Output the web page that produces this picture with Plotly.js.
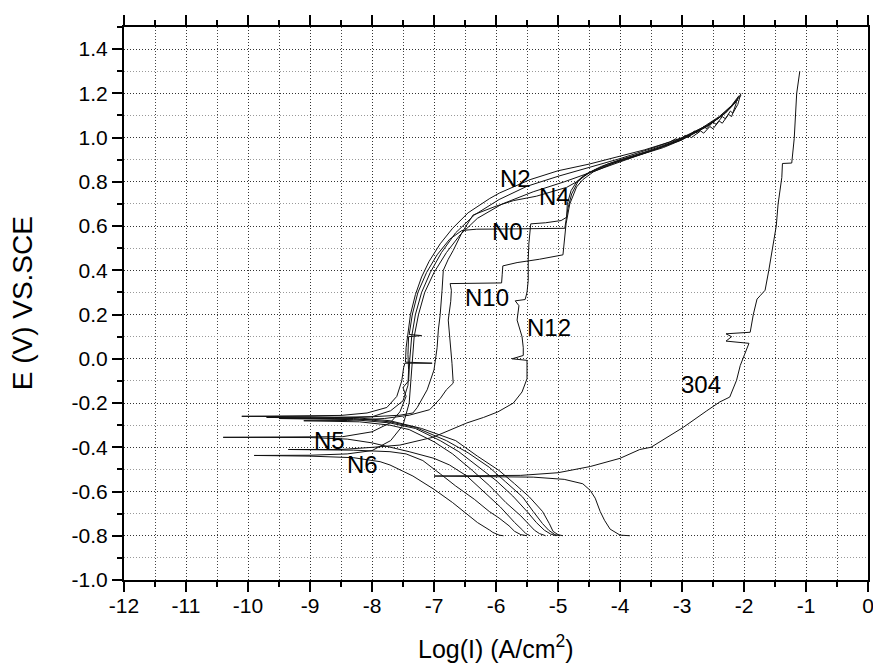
<!DOCTYPE html>
<html>
<head>
<meta charset="utf-8">
<script src="https://cdn.plot.ly/plotly-3.0.1.min.js"></script>
<style>
  html, body { margin: 0; padding: 0; background: #fff; }
  #plot { width: 873px; height: 666px; }
</style>
</head>
<body>
<div id="plot"></div>
<script>
// Potentiodynamic polarization curves: potential E (V vs SCE) against log current density.
// Each scan runs from the cathodic end (-0.8 V) up through Ecorr and on into the anodic region.

const xTickVals = [-12, -11, -10, -9, -8, -7, -6, -5, -4, -3, -2, -1, 0];
const xTickText = ['-12', '-11', '-10', '-9', '-8', '-7', '-6', '-5', '-4', '-3', '-2', '-1', '0'];
const yTickVals = [-1.0, -0.8, -0.6, -0.4, -0.2, 0.0, 0.2, 0.4, 0.6, 0.8, 1.0, 1.2, 1.4];
const yTickText = ['-1.0', '-0.8', '-0.6', '-0.4', '-0.2', '0.0', '0.2', '0.4', '0.6', '0.8', '1.0', '1.2', '1.4'];

// N2
const n2LogI = [-4.92, -5.0, -5.08, -5.14, -5.25, -5.46, -5.7, -5.95, -6.3, -6.65, -7.2, -7.71, -8.2, -9.0, -10.1,
  -9.0, -8.5, -8.08, -7.76, -7.6, -7.52, -7.49, -7.47, -7.03, -7.46, -7.45, -7.42, -7.38, -7.3, -7.2, -7.08, -6.9, -6.7,
  -6.45, -6.1, -5.94, -5.45, -5.0, -4.5, -4.0, -3.6, -3.2, -3.1, -3.05, -2.95, -2.9, -2.8, -2.75, -2.65, -2.6, -2.5,
  -2.45, -2.35, -2.3, -2.22, -2.18, -2.1, -2.05];
const n2E = [-0.80, -0.795, -0.78, -0.745, -0.69, -0.625, -0.565, -0.505, -0.44, -0.37, -0.315, -0.28, -0.268, -0.262, -0.26,
  -0.258, -0.256, -0.245, -0.22, -0.17, -0.10, -0.04, -0.02, -0.02, -0.015, 0.05, 0.12, 0.2, 0.29, 0.37, 0.44, 0.52, 0.59,
  0.66, 0.725, 0.75, 0.81, 0.85, 0.88, 0.915, 0.945, 0.98, 0.995, 0.985, 1.01, 1.0, 1.03, 1.02, 1.05, 1.04, 1.07,
  1.06, 1.095, 1.085, 1.12, 1.11, 1.15, 1.2];

// N4
const n4LogI = [-4.97, -5.05, -5.15, -5.25, -5.4, -5.57, -5.85, -6.11, -6.45, -6.8, -7.3, -7.71, -8.3, -9.7,
  -8.6, -8.0, -7.55, -7.34, -7.27, -7.11, -7.0, -6.95, -6.93, -6.9, -6.87, -6.85, -6.77, -6.69, -6.55, -6.37, -6.0,
  -5.72, -5.35, -4.86, -4.7, -4.5, -4.2, -3.8, -3.4, -3.0, -2.7, -2.4, -2.2, -2.08];
const n4E = [-0.80, -0.795, -0.775, -0.745, -0.69, -0.625, -0.555, -0.49, -0.425, -0.37, -0.31, -0.285, -0.27, -0.265,
  -0.264, -0.262, -0.255, -0.245, -0.22, -0.14, -0.05, 0.05, 0.13, 0.2, 0.31, 0.40, 0.45, 0.49, 0.57, 0.65, 0.69,
  0.715, 0.735, 0.775, 0.80, 0.84, 0.88, 0.915, 0.95, 0.995, 1.04, 1.095, 1.145, 1.19];

// N0
const n0LogI = [-5.03, -5.12, -5.22, -5.35, -5.5, -5.73, -6.0, -6.27, -6.6, -6.9, -7.3, -7.71, -8.3, -9.5,
  -8.6, -8.0, -7.7, -7.5, -7.42, -7.41, -7.42, -7.41, -7.2, -7.4, -7.35, -7.26, -7.12, -6.95, -6.75, -6.55, -6.31,
  -5.8, -5.3, -4.89, -4.87, -4.84, -4.78, -4.68, -4.55, -4.3, -4.0, -3.6, -3.2, -2.9, -2.6, -2.35, -2.15, -2.05];
const n0E = [-0.80, -0.792, -0.775, -0.74, -0.69, -0.62, -0.55, -0.49, -0.42, -0.37, -0.315, -0.29, -0.275, -0.27,
  -0.27, -0.262, -0.235, -0.19, -0.12, -0.05, 0.02, 0.10, 0.105, 0.11, 0.2, 0.3, 0.39, 0.47, 0.54, 0.58, 0.586,
  0.587, 0.588, 0.59, 0.627, 0.68, 0.745, 0.80, 0.835, 0.87, 0.90, 0.935, 0.975, 1.01, 1.05, 1.10, 1.16, 1.19];

// N10
const n10LogI = [-5.2, -5.3, -5.38, -5.46, -5.6, -5.84, -6.1, -6.38, -6.7, -7.0, -7.4, -7.71, -8.2, -9.1,
  -8.4, -7.8, -7.4, -7.07, -6.9, -6.8, -6.69, -6.71, -6.74, -6.77, -6.73, -6.72, -6.74, -6.3, -5.91, -5.9, -5.89,
  -5.66, -5.3, -4.92, -4.9, -4.87, -4.81, -4.7, -4.6, -4.43, -4.1, -3.7, -3.3, -3.0, -2.7, -2.4, -2.2, -2.1];
const n10E = [-0.80, -0.79, -0.775, -0.75, -0.71, -0.65, -0.575, -0.505, -0.43, -0.375, -0.32, -0.30, -0.285, -0.28,
  -0.279, -0.27, -0.255, -0.23, -0.18, -0.14, -0.11, -0.02, 0.08, 0.175, 0.26, 0.31, 0.34, 0.342, 0.343, 0.38, 0.42,
  0.435, 0.45, 0.47, 0.535, 0.61, 0.70, 0.777, 0.81, 0.845, 0.885, 0.92, 0.955, 0.99, 1.035, 1.09, 1.14, 1.175];

// N12
const n12LogI = [-5.5, -5.6, -5.7, -5.79, -5.95, -6.11, -6.35, -6.65, -6.9, -7.18, -7.45, -7.71, -8.3, -9.35,
  -8.5, -7.98, -7.55, -7.02, -6.47, -6.2, -5.97, -5.72, -5.58, -5.5, -5.5, -5.74, -5.56, -5.56, -5.58, -5.66, -5.63,
  -5.69, -5.53, -5.5, -5.48, -5.48, -5.47, -5.44, -5.2, -4.95, -4.86, -4.85, -4.79, -4.7, -4.6, -4.4, -4.0, -3.6,
  -3.2, -2.9, -2.6, -2.35, -2.15, -2.07];
const n12E = [-0.80, -0.795, -0.78, -0.755, -0.72, -0.69, -0.635, -0.575, -0.52, -0.46, -0.43, -0.42, -0.413, -0.41,
  -0.41, -0.40, -0.39, -0.355, -0.29, -0.265, -0.24, -0.20, -0.15, -0.09, -0.007, 0.0, 0.015, 0.05, 0.10, 0.175, 0.24,
  0.262, 0.268, 0.30, 0.355, 0.45, 0.52, 0.61, 0.615, 0.625, 0.64, 0.70, 0.76, 0.80, 0.825, 0.855, 0.895, 0.93,
  0.97, 1.005, 1.05, 1.10, 1.16, 1.19];

// N5 (noisy, overlapping sweeps along Ecorr)
const n5LogI = [-5.45, -5.52, -5.57, -5.7, -5.93, -6.2, -6.47, -6.75, -7.0, -7.4, -7.71, -8.0, -8.4, -9.0, -10.4,
  -9.0, -10.38, -8.9, -10.35, -8.47, -8.0, -7.71, -7.55, -7.45, -7.5, -7.41, -7.39, -7.36, -7.3, -7.2, -7.06, -6.88,
  -6.65, -6.35, -5.95, -5.5, -5.0, -4.5, -4.0, -3.5, -3.0, -2.6, -2.3, -2.1];
const n5E = [-0.80, -0.79, -0.775, -0.74, -0.67, -0.60, -0.53, -0.48, -0.45, -0.42, -0.40, -0.38, -0.363, -0.356, -0.355,
  -0.353, -0.357, -0.354, -0.356, -0.352, -0.33, -0.29, -0.24, -0.17, -0.13, -0.10, 0.0, 0.1, 0.2, 0.3, 0.39, 0.48,
  0.57, 0.65, 0.72, 0.78, 0.825, 0.865, 0.905, 0.95, 1.0, 1.055, 1.11, 1.17];

// N6
const n6LogI = [-5.88, -5.95, -6.05, -6.1, -6.3, -6.47, -6.7, -7.0, -7.34, -7.71, -7.87, -8.3, -9.0, -9.9,
  -9.0, -8.4, -8.0, -7.7, -7.5, -7.4, -7.37, -7.35, -7.32, -7.25, -7.15, -7.0, -6.8, -6.58, -6.3, -5.9, -5.4, -4.9,
  -4.4, -4.0, -3.5, -3.0, -2.9, -2.85, -2.7, -2.65, -2.55, -2.5, -2.4, -2.35, -2.25, -2.2, -2.12];
const n6E = [-0.80, -0.797, -0.785, -0.775, -0.74, -0.70, -0.65, -0.59, -0.53, -0.48, -0.465, -0.447, -0.44, -0.437,
  -0.436, -0.43, -0.415, -0.37, -0.30, -0.20, -0.10, 0.0, 0.10, 0.20, 0.30, 0.39, 0.48, 0.56, 0.635, 0.70, 0.755, 0.80,
  0.85, 0.89, 0.94, 0.99, 1.01, 1.0, 1.03, 1.02, 1.05, 1.04, 1.075, 1.065, 1.105, 1.095, 1.16];

// 304 stainless steel
const s304LogI = [-3.84, -4.0, -4.16, -4.25, -4.32, -4.4, -4.48, -4.6, -4.9, -5.4, -7.0,
  -5.6, -5.0, -4.48, -4.0, -3.68, -3.5, -2.98, -2.6, -2.39, -2.23, -2.12, -2.06, -2.01, -1.96, -1.92, -2.29, -2.2,
  -2.29, -1.9, -1.85, -1.82, -1.79, -1.74, -1.66, -1.6, -1.55, -1.48, -1.45, -1.39, -1.38, -1.23, -1.19, -1.15, -1.1];
const s304E = [-0.80, -0.797, -0.77, -0.73, -0.69, -0.63, -0.595, -0.565, -0.545, -0.535, -0.53,
  -0.527, -0.515, -0.487, -0.45, -0.41, -0.40, -0.31, -0.235, -0.195, -0.173, -0.097, -0.03, 0.008, 0.04, 0.07, 0.08, 0.10,
  0.113, 0.12, 0.2, 0.234, 0.27, 0.285, 0.31, 0.4, 0.476, 0.60, 0.70, 0.82, 0.883, 0.885, 0.996, 1.2, 1.3];

// Curve labels, placed in data coordinates
const labelText = ['N2', 'N4', 'N0', 'N10', 'N12', 'N5', 'N6', '304'];
const labelLogI = [-5.69, -5.05, -5.81, -6.15, -5.15, -8.69, -8.15, -2.69];
const labelE = [0.817, 0.735, 0.577, 0.276, 0.140, -0.369, -0.477, -0.115];

const series = [
  { name: 'N0', x: n0LogI, y: n0E },
  { name: 'N2', x: n2LogI, y: n2E },
  { name: 'N4', x: n4LogI, y: n4E },
  { name: 'N5', x: n5LogI, y: n5E },
  { name: 'N6', x: n6LogI, y: n6E },
  { name: 'N10', x: n10LogI, y: n10E },
  { name: 'N12', x: n12LogI, y: n12E },
  { name: '304', x: s304LogI, y: s304E }
];

const traces = series.map(s => ({
  type: 'scatter',
  mode: 'lines',
  name: s.name,
  x: s.x,
  y: s.y,
  line: { color: '#111', width: 1 },
  hoverinfo: 'skip',
  showlegend: false
}));

const FONT = 'Liberation Sans, Arial, Helvetica, sans-serif';

const annotations = labelText.map((t, i) => ({
  text: t,
  x: labelLogI[i],
  y: labelE[i],
  xref: 'x',
  yref: 'y',
  showarrow: false,
  xanchor: 'center',
  yanchor: 'middle',
  font: { family: FONT, size: 24, color: '#000' }
}));

annotations.push({
  text: 'Log(I) (A/cm<sup>2</sup>)',
  xref: 'paper', yref: 'paper',
  x: 0.5, y: -0.122,
  xanchor: 'center', yanchor: 'middle',
  showarrow: false,
  font: { family: FONT, size: 25, color: '#000' }
});
annotations.push({
  text: 'E (V) VS.SCE',
  xref: 'paper', yref: 'paper',
  x: -0.136, y: 0.5,
  xanchor: 'center', yanchor: 'middle',
  textangle: -90,
  showarrow: false,
  font: { family: FONT, size: 28, color: '#000' }
});

const axisCommon = {
  tickmode: 'array',
  ticks: 'outside',
  ticklen: 10,
  tickwidth: 2,
  tickcolor: '#000',
  showline: true,
  linewidth: 2,
  linecolor: '#000',
  showgrid: true,
  gridcolor: '#333',
  gridwidth: 1,
  griddash: '1px,2px',
  zeroline: false,
  ticklabeloverflow: 'allow',
  tickfont: { family: FONT, size: 21, color: '#000' },
  fixedrange: true
};

const layout = {
  width: 873,
  height: 666,
  margin: { l: 124, r: 5, t: 27, b: 86, pad: 0 },
  paper_bgcolor: '#fff',
  plot_bgcolor: '#fff',
  showlegend: false,
  font: { family: FONT, color: '#000' },
  xaxis: Object.assign({}, axisCommon, {
    range: [-12, 0],
    tickvals: xTickVals,
    ticktext: xTickText,
    mirror: 'ticks',
    ticklabelstandoff: -4,
    minor: {
      tickmode: 'linear', tick0: 0, dtick: 0.5,
      ticks: 'outside', ticklen: 5, tickwidth: 2, tickcolor: '#000',
      showgrid: true, gridcolor: '#444', gridwidth: 1, griddash: '1px,2px'
    }
  }),
  yaxis: Object.assign({}, axisCommon, {
    range: [-1.0, 1.5],
    tickvals: yTickVals,
    ticktext: yTickText,
    mirror: true,
    minor: {
      tickmode: 'linear', tick0: 0, dtick: 0.1,
      ticks: 'outside', ticklen: 5, tickwidth: 2, tickcolor: '#000',
      showgrid: true, gridcolor: '#999', gridwidth: 1, griddash: '1px,2px'
    }
  }),
  annotations: annotations
};

Plotly.newPlot('plot', traces, layout, { displayModeBar: false, staticPlot: true });
</script>
</body>
</html>
